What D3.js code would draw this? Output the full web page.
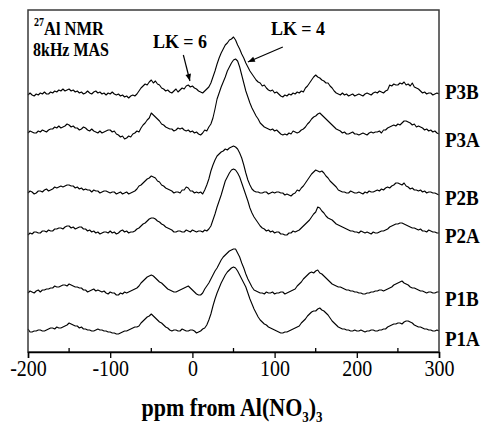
<!DOCTYPE html>
<html>
<head>
<meta charset="utf-8">
<script src="https://cdn.jsdelivr.net/npm/d3@7"></script>
<style>
  body { margin: 0; background: #fff; }
  svg { display: block; }
  text { font-family: "Liberation Serif", "Times New Roman", serif; fill: #000; }
</style>
</head>
<body>
<svg id="chart" width="483" height="425"></svg>
<script>
// 27Al MAS NMR spectra, sampled every 2.5 ppm from -200 to 300 ppm
const ppmStart = -200;
const ppmStep = 2.5;

// sample names, top to bottom
const traceNames = ["P3B", "P3A", "P2B", "P2A", "P1B", "P1A"];
// vertical stacking offset of each spectrum (intensity units)
const traceOffsets = [257, 219, 159, 119, 59, 21];

// each row covers 50 ppm (20 points); final value is 300 ppm
const p3b = [
  0, 2, 0, -1, 1, 0, 2, 1, 3, 1, 1, 3, 2, 4, 3, 5, 4, 6, 4, 5,
  6, 4, 5, 3, 4, 2, 3, 1, 2, 4, 2, 1, 3, 4, 2, 3, 1, 2, 0, 2,
  1, 3, 1, 0, 1, -1, 0, -2, -1, -3, -1, 0, -1, 1, 4, 7, 9, 11, 10, 13,
  15, 12, 14, 11, 10, 7, 6, 4, 5, 3, 2, 4, 6, 3, 5, 7, 6, 9, 10, 8,
  9, 7, 6, 4, 3, 2, 4, 6, 8, 12, 18, 24, 31, 37, 42, 46, 50, 52, 55, 56,
  58, 55, 50, 46, 41, 37, 32, 28, 24, 21, 18, 15, 13, 12, 9, 10, 7, 5, 4, 5,
  2, 3, 1, -1, -2, 0, -1, 1, 0, 2, 1, 3, 2, 4, 3, 7, 9, 12, 15, 18,
  20, 18, 17, 15, 14, 12, 12, 9, 7, 4, 2, 1, 0, 2, 0, 1, -1, 0, 1, -1,
  0, 1, 0, -1, 1, 2, 1, 0, 2, 3, 2, 4, 3, 2, 4, 5, 10, 9, 11, 10,
  10, 12, 11, 13, 10, 11, 9, 12, 8, 7, 6, 4, 2, 3, 1, 2, 2, 0, 1, 2,
  1
];
const p3a = [
  0, 2, 1, 0, 0, 2, 1, 3, 2, 1, 3, 4, 4, 6, 5, 7, 5, 6, 7, 9,
  8, 6, 7, 5, 5, 3, 4, 6, 5, 3, 2, 4, 2, 1, 0, 2, 0, 1, 2, 3,
  3, 1, 2, -1, -2, -4, -3, -6, -5, -3, -4, -1, 0, 2, 1, 5, 8, 10, 13, 15,
  20, 18, 16, 14, 12, 9, 8, 6, 5, 4, 4, 2, 3, 5, 4, 5, 3, 2, 3, 1,
  2, 0, 1, -1, -2, 0, 3, 2, 6, 9, 15, 24, 34, 40, 46, 51, 56, 62, 66, 70,
  73, 74, 72, 66, 58, 50, 42, 36, 30, 25, 21, 17, 14, 10, 8, 6, 5, 4, 3, 4,
  2, 3, 1, -1, -2, -1, -2, 0, -1, 2, 1, 0, 1, 3, 4, 6, 9, 11, 14, 16,
  17, 19, 20, 18, 16, 14, 12, 10, 8, 6, 4, 3, 2, 0, 1, -1, -1, 0, 1, -1,
  -1, -2, -1, 0, -1, -2, 0, 1, 0, 1, 1, 2, 0, 3, 3, 5, 6, 7, 8, 7,
  9, 8, 10, 12, 12, 11, 10, 8, 9, 6, 7, 6, 5, 3, 4, 2, 3, 1, 2, 0,
  -1
];
const p2b = [
  0, 2, 1, -1, 0, 2, 2, 1, 3, 4, 2, 3, 4, 6, 5, 6, 7, 6, 7, 8,
  8, 7, 7, 5, 6, 4, 5, 3, 4, 3, 3, 1, 3, 2, 2, 0, 1, 2, 2, 1,
  0, 1, 1, -1, 0, 1, -1, 0, 1, -1, 0, 1, 2, 4, 7, 8, 10, 12, 14, 15,
  17, 16, 15, 12, 11, 8, 7, 5, 4, 3, 2, 0, 1, 1, 0, 3, 3, 6, 5, 2,
  2, 0, 1, 0, 1, -1, 3, 8, 14, 22, 28, 33, 37, 39, 41, 42, 44, 43, 45, 46,
  47, 46, 44, 40, 35, 28, 20, 13, 8, 4, 2, 1, 1, 0, 0, 1, 1, -1, 0, 1,
  0, 1, 1, 0, 0, -2, -1, -2, -3, -1, 0, 3, 2, 5, 7, 10, 13, 16, 19, 21,
  23, 22, 21, 22, 20, 17, 15, 12, 10, 8, 6, 3, 2, 1, 1, 0, 0, 2, 1, 0,
  0, 1, 0, -1, 1, 0, 2, 1, 1, 2, 3, 2, 4, 3, 5, 6, 5, 7, 8, 10,
  10, 9, 8, 10, 7, 6, 4, 5, 3, 3, 2, 3, 1, 2, 0, 1, 1, 0, 0, -1,
  -2
];
const p2a = [
  -2, 0, -1, 1, 1, 0, 0, 2, 2, 1, 3, 2, 2, 4, 4, 5, 5, 4, 6, 7,
  7, 5, 6, 4, 5, 6, 6, 4, 4, 2, 3, 1, 2, 0, 1, -1, 0, 1, 1, 0,
  2, 0, 1, -1, 0, 2, 3, 1, 2, 0, 1, 1, 2, 4, 5, 7, 9, 10, 12, 14,
  15, 15, 14, 12, 11, 9, 8, 6, 5, 4, 3, 1, 1, 2, 2, 1, 1, 3, 2, 1,
  3, 2, 1, 2, 2, 1, 3, 2, 4, 7, 13, 19, 26, 32, 38, 45, 52, 56, 60, 63,
  64, 63, 60, 56, 50, 44, 38, 32, 25, 20, 16, 13, 10, 7, 5, 4, 2, 3, 1, 2,
  0, 1, 1, -1, -1, -2, -2, 0, 0, 2, 1, 2, 3, 5, 7, 9, 11, 13, 16, 19,
  21, 26, 25, 22, 20, 17, 15, 14, 13, 11, 9, 8, 7, 6, 5, 4, 3, 2, 2, 1,
  1, 0, 2, 1, 0, 1, 0, -1, 1, 0, 0, 1, 2, 2, 3, 4, 6, 7, 8, 9,
  9, 10, 10, 9, 8, 7, 6, 5, 5, 4, 3, 4, 2, 2, 1, 3, 2, 1, 1, 0,
  0
];
const p1b = [
  0, 2, 1, 0, 2, 3, 1, 3, 3, 4, 4, 5, 5, 7, 6, 6, 7, 8, 8, 7,
  9, 8, 7, 6, 6, 5, 5, 3, 3, 1, 2, 3, 4, 2, 3, 2, 1, 2, 0, -1,
  1, 0, 0, -2, -2, 0, -1, 1, 0, 1, 2, 3, 4, 5, 7, 10, 12, 14, 16, 17,
  18, 17, 15, 13, 11, 10, 8, 6, 4, 3, 2, 1, 1, 2, 3, 4, 5, 6, 7, 5,
  3, 1, -1, -2, -2, 0, 4, 7, 10, 14, 18, 22, 25, 29, 33, 36, 38, 40, 42, 43,
  44, 44, 40, 36, 30, 25, 19, 14, 10, 6, 3, 2, 1, 0, 0, -1, 1, 0, 0, 1,
  -1, 0, 0, 1, 1, -1, 0, 1, 2, 3, 4, 7, 9, 11, 14, 16, 18, 20, 21, 20,
  22, 23, 20, 19, 17, 15, 13, 11, 9, 8, 7, 6, 6, 5, 4, 3, 3, 2, 2, 1,
  1, 0, 0, -1, -1, 0, 0, 1, 1, 2, 2, 3, 3, 2, 3, 4, 5, 6, 8, 9,
  10, 11, 12, 10, 9, 8, 6, 5, 5, 4, 3, 2, 2, 1, 0, 1, 1, 0, 0, 1,
  1
];
const p1a = [
  2, -1, -1, 0, 0, 1, 1, 0, 0, 1, 2, 3, 3, 2, 4, 3, 3, 4, 5, 6,
  8, 7, 6, 5, 5, 3, 4, 2, 2, 1, 1, 0, 0, 1, 2, 1, 1, 0, 0, -1,
  -1, -2, -2, -3, -3, -2, -1, 0, 0, 1, 2, 3, 4, 4, 5, 8, 10, 12, 14, 15,
  17, 15, 13, 11, 9, 8, 6, 4, 3, 1, 0, 1, 1, 0, 0, 2, 1, 0, 0, 1,
  1, 0, -2, -1, 0, 2, 3, 6, 11, 17, 25, 32, 38, 43, 48, 52, 56, 59, 61, 63,
  64, 63, 60, 56, 52, 48, 44, 38, 32, 27, 22, 18, 14, 11, 9, 7, 6, 4, 3, 2,
  1, 0, -1, -2, -2, -1, -1, 0, 1, 2, 3, 4, 5, 8, 10, 12, 15, 17, 19, 20,
  20, 22, 23, 21, 20, 18, 16, 13, 10, 8, 6, 4, 3, 2, 2, 1, 1, 0, 0, 1,
  0, 0, 1, 0, -1, 0, 0, 1, 1, 0, 0, 1, 1, 2, 2, 4, 5, 6, 7, 7,
  8, 8, 7, 9, 10, 10, 9, 8, 6, 5, 4, 4, 3, 2, 2, 1, 1, 0, 0, 1,
  0
];
const traceValues = [p3b, p3a, p2b, p2a, p1b, p1a];

// axis ticks
const xTicks = [-200, -100, 0, 100, 200, 300];
const xMinorTicks = [-150, -50, 50, 150, 250];

// ---------- layout ----------
const svg = d3.select("#chart");
const plot = { left: 28, right: 439, top: 10, bottom: 352 };

const x = d3.scaleLinear().domain([-200, 300]).range([plot.left, plot.right]);
const y = d3.scaleLinear().domain([0, 342]).range([plot.bottom, plot.top]);

// text drawn slightly tall, as in the printed figure
function tallText(parent, tx, ty, size, sy, anchor) {
  return parent.append("text")
    .attr("transform", `translate(${tx},${ty}) scale(1,${sy})`)
    .attr("text-anchor", anchor || "start")
    .style("font-size", size + "px")
    .style("font-weight", "bold");
}

// spectra
const line = d3.line()
  .x((d, i) => x(ppmStart + i * ppmStep))
  .y(d => y(d));

traceValues.forEach((vals, k) => {
  svg.append("path")
    .datum(vals.map(v => v + traceOffsets[k]))
    .attr("d", line)
    .attr("fill", "none")
    .attr("stroke", "#000")
    .attr("stroke-width", 1.1)
    .attr("stroke-linejoin", "round");
});

// frame
svg.append("rect")
  .attr("x", plot.left).attr("y", plot.top)
  .attr("width", plot.right - plot.left)
  .attr("height", plot.bottom - plot.top)
  .attr("fill", "none").attr("stroke", "#3a3a3a").attr("stroke-width", 1.5);

// bottom axis: major ticks outward, minor ticks inward
const axis = d3.axisBottom(x).tickValues(xTicks).tickSize(6);
const gAxis = svg.append("g").attr("transform", `translate(0,${plot.bottom})`).call(axis);
gAxis.select(".domain").attr("stroke", "#000").attr("stroke-width", 1.5);
gAxis.selectAll(".tick line").attr("stroke", "#000").attr("stroke-width", 1.3);
gAxis.selectAll(".tick text")
  .attr("y", null).attr("dy", null)
  .attr("transform", "translate(0,24) scale(1,1.12)")
  .attr("fill", "#000")
  .style("font-family", "'Liberation Serif', serif")
  .style("font-size", "20px")
  .text(d => d < 0 ? "-" + Math.abs(d) : d);

svg.append("g").selectAll("line").data(xMinorTicks).join("line")
  .attr("x1", d => x(d)).attr("x2", d => x(d))
  .attr("y1", plot.bottom).attr("y2", plot.bottom - 4)
  .attr("stroke", "#000").attr("stroke-width", 1.3);

// sample labels
const labelNudge = [4, 14, 12, 10, 13, 15];
traceNames.forEach((name, k) => {
  tallText(svg, 445, y(traceOffsets[k]) + labelNudge[k], 19, 1.12).text(name);
});

// header annotation
const t1 = tallText(svg, 34, 35, 16.5, 1.15);
t1.append("tspan").style("font-size", "10px").attr("dy", -8).text("27");
t1.append("tspan").attr("dy", 8).text("Al NMR");
tallText(svg, 33, 56, 16, 1.15).text("8kHz MAS");

// peak assignments with arrows
svg.append("defs").append("marker").attr("id", "arrow")
  .attr("viewBox", "0 0 10 10").attr("refX", 10).attr("refY", 5)
  .attr("markerWidth", 8).attr("markerHeight", 7).attr("markerUnits", "userSpaceOnUse")
  .attr("orient", "auto")
  .append("path").attr("d", "M0,1 L10,5 L0,9 Z").attr("fill", "#000");

const notes = [
  { text: "LK = 6", tx: 180, ty: 48, from: [-11, 297], to: [-3, 271] },
  { text: "LK = 4", tx: 298, ty: 35, from: [110, 305], to: [67.5, 290] }
];
notes.forEach(n => {
  tallText(svg, n.tx, n.ty, 18, 1.1, "middle").text(n.text);
  svg.append("line")
    .attr("x1", x(n.from[0])).attr("y1", y(n.from[1]))
    .attr("x2", x(n.to[0])).attr("y2", y(n.to[1]))
    .attr("stroke", "#000").attr("stroke-width", 1.2)
    .attr("marker-end", "url(#arrow)");
});

// x axis title
const title = tallText(svg, 232, 416, 22, 1.1, "middle");
title.append("tspan").text("ppm from Al(NO");
title.append("tspan").attr("dy", 5).style("font-size", "13px").text("3");
title.append("tspan").attr("dy", -5).text(")");
title.append("tspan").attr("dy", 5).style("font-size", "13px").text("3");
</script>
</body>
</html>
